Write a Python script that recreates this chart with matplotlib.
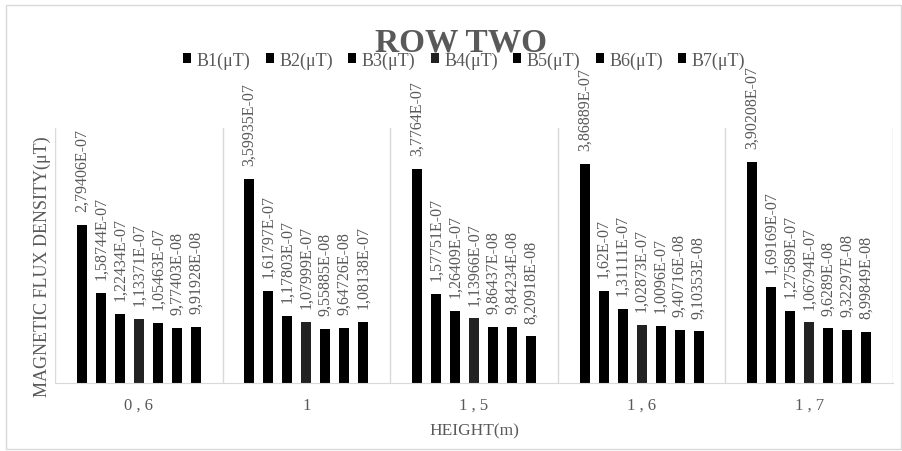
import numpy as np
import matplotlib.pyplot as plt
from matplotlib.patches import Rectangle

plt.rcParams['font.family'] = ['Liberation Serif', 'DejaVu Serif']

# data
heights = ['0 , 6', '1', '1 , 5', '1 , 6', '1 , 7']
series = ['B1(μT)', 'B2(μT)', 'B3(μT)', 'B4(μT)', 'B5(μT)', 'B6(μT)', 'B7(μT)']
b1 = [2.79406e-7, 3.59935e-7, 3.7764e-7, 3.86889e-7, 3.90208e-7]
b2 = [1.58744e-7, 1.61797e-7, 1.57751e-7, 1.62e-7, 1.69169e-7]
b3 = [1.22434e-7, 1.17803e-7, 1.26409e-7, 1.31111e-7, 1.27589e-7]
b4 = [1.13371e-7, 1.07999e-7, 1.13966e-7, 1.02873e-7, 1.06794e-7]
b5 = [1.05463e-7, 9.55885e-8, 9.86437e-8, 1.0096e-7, 9.6289e-8]
b6 = [9.77403e-8, 9.64726e-8, 9.84234e-8, 9.40716e-8, 9.32297e-8]
b7 = [9.91928e-8, 1.08138e-7, 8.20918e-8, 9.10353e-8, 8.99849e-8]
values = [b1, b2, b3, b4, b5, b6, b7]
colors = ['#000000', '#000000', '#000000', '#222222', '#000000', '#000000', '#000000']

gray = '#595959'
line_gray = '#d9d9d9'


def excel_fmt(v):
    # excel "General" style: 6 significant digits, decimal comma
    mant, exp = ('%.5E' % v).split('E')
    mant = mant.rstrip('0').rstrip('.')
    return mant.replace('.', ',') + 'E' + exp


fig = plt.figure(figsize=(9.02, 4.52), dpi=100)
ax = fig.add_axes([55 / 902, 1 - 384 / 452, 838 / 902, 255 / 452])

x = np.arange(len(heights))
step = 0.1134
width = 0.06
for k in range(len(series)):
    xs = x + (k - 3) * step
    ax.bar(xs, values[k], width=width, color=colors[k], label=series[k])
    for xi, v in zip(xs, values[k]):
        ax.annotate(excel_fmt(v), (xi, v), xytext=(0, 10), textcoords='offset points',
                    rotation=90, ha='center', va='bottom', fontsize=11.5, color=gray)

for b in np.arange(-0.5, len(heights), 1.0):
    ax.axvline(b, color=line_gray, lw=1, zorder=0)

ax.set_xlim(-0.5, len(heights) - 0.5)
ax.set_ylim(0, 4.5e-7)
ax.set_yticks([])
ax.set_xticks(x)
ax.set_xticklabels(heights, fontsize=12, color=gray)
ax.tick_params(axis='x', length=0, pad=10)
for s in ['top', 'right', 'left']:
    ax.spines[s].set_visible(False)
ax.spines['bottom'].set_color(line_gray)

ax.set_xlabel('HEIGHT(m)', fontsize=12.5, color=gray, labelpad=7)
fig.text(42 / 902, 1 - 267 / 452, 'MAGNETIC FLUX DENSITY(μT)', rotation=90,
         ha='center', va='center', fontsize=13, color=gray)

fig.text(461 / 902, 1 - 43 / 452, 'ROW TWO', ha='center', va='center',
         fontsize=24, fontweight='bold', color=gray)

fig.legend(loc='center', bbox_to_anchor=(464 / 902, 1 - 61 / 452), ncol=7,
           frameon=False, fontsize=13, labelcolor=gray, handlelength=0.45,
           handleheight=0.45, handletextpad=0.3, columnspacing=0.85,
           borderpad=0, borderaxespad=0)

fig.patches.append(Rectangle((6 / 902, 2 / 452), 895 / 902, 444 / 452,
                             transform=fig.transFigure, fill=False,
                             edgecolor=line_gray, lw=1))

plt.savefig('out.png', dpi=100)
